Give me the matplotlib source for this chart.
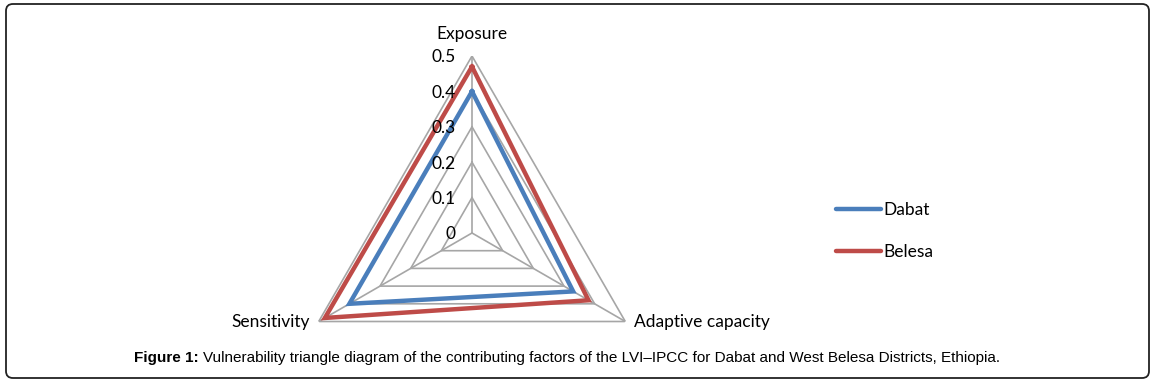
import numpy as np
import matplotlib
matplotlib.use("Agg")
from matplotlib import pyplot as plt
from matplotlib.patches import FancyBboxPatch

# data
factors = ['Exposure', 'Adaptive capacity', 'Sensitivity']
dabat = [0.40, 0.33, 0.40]
belesa = [0.47, 0.38, 0.48]
ring_levels = [0.1, 0.2, 0.3, 0.4, 0.5]
tick_labels = ['0', '0.1', '0.2', '0.3', '0.4', '0.5']

blue = '#4a7ebb'
red = '#be4b48'
grid_col = '#a6a6a6'
label_font = ['Lato', 'DejaVu Sans']

fig = plt.figure(figsize=(11.54, 3.85), dpi=100)

# polar axes, centre at ~(472, 233) px, r=0.5 -> 177 px
W, H = 1154.0, 385.0
cx, cy, R = 472, 233, 177
ax = fig.add_axes([(cx - R) / W, (H - cy - R) / H, 2 * R / W, 2 * R / H],
                  projection='polar')
ax.set_theta_offset(np.pi / 2)
ax.set_theta_direction(-1)
ax.set_ylim(0, 0.5)
ax.grid(False)
ax.spines['polar'].set_visible(False)
ax.set_xticks([])
ax.set_yticks([])
ax.patch.set_alpha(0)

angles = np.linspace(0, 2 * np.pi, len(factors), endpoint=False)
closed = np.concatenate([angles, angles[:1]])

# triangular grid
for lev in ring_levels:
    ax.plot(closed, [lev] * len(closed), color=grid_col, lw=1.2, zorder=1)
for a in angles:
    ax.plot([a, a], [0, 0.5], color=grid_col, lw=1.2, zorder=1)

ax.plot(closed, dabat + dabat[:1], color=blue, lw=3.2, zorder=3,
        solid_joinstyle='miter', label='Dabat')
ax.plot(closed, belesa + belesa[:1], color=red, lw=3.2, zorder=3,
        solid_joinstyle='miter', label='Belesa')

# value labels along the top spoke
for i, t in enumerate(tick_labels):
    ax.annotate(t, xy=(0, i * 0.1), xytext=(-12, -1), textcoords='offset points',
                ha='right', va='center', fontsize=12.5, family=label_font,
                zorder=5)

# category labels
ax.annotate(factors[0], xy=(angles[0], 0.5), xytext=(0, 10),
            textcoords='offset points', ha='center', va='bottom',
            fontsize=12.5, family=label_font)
ax.annotate(factors[1], xy=(angles[1], 0.5), xytext=(6, 0),
            textcoords='offset points', ha='left', va='center',
            fontsize=12.5, family=label_font)
ax.annotate(factors[2], xy=(angles[2], 0.5), xytext=(-6, 0),
            textcoords='offset points', ha='right', va='center',
            fontsize=12.5, family=label_font)

leg = fig.legend(loc='center left', bbox_to_anchor=(836 / W, 1 - 231 / H),
                 frameon=False, handlelength=2.6, labelspacing=1.45,
                 handletextpad=0.15, borderpad=0, borderaxespad=0,
                 prop={'family': label_font, 'size': 12.5})
for h in leg.legend_handles:
    h.set_solid_capstyle('round')

# outer rounded frame
frame = FancyBboxPatch((6 / W, 7 / H), 1143 / W, 374 / H,
                       boxstyle='round,pad=0,rounding_size=0.006',
                       transform=fig.transFigure, fill=False,
                       edgecolor='#222222', lw=1.3, mutation_aspect=W / H)
fig.patches.append(frame)

# caption: bold prefix then normal text
cap_font = ['Liberation Sans', 'DejaVu Sans']
t1 = fig.text(134 / W, 1 - 358 / H, 'Figure 1:', fontsize=11, weight='bold',
              family=cap_font, va='center', ha='left')
fig.canvas.draw()
bb = t1.get_window_extent()
fig.text((bb.x1 + 4) / W, 1 - 358 / H,
         'Vulnerability triangle diagram of the contributing factors of the '
         'LVI\u2013IPCC for Dabat and West Belesa Districts, Ethiopia.',
         fontsize=11, family=cap_font, va='center', ha='left')

fig.savefig('out.png', dpi=100)
